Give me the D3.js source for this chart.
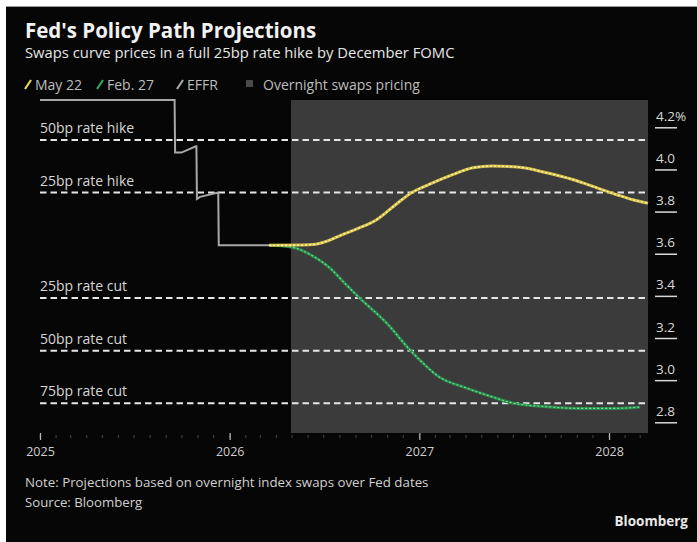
<!DOCTYPE html>
<html>
<head>
<meta charset="utf-8">
<script src="https://cdn.jsdelivr.net/npm/d3@7"></script>
<style>
  body { margin: 0; background: #fff; }
  svg { display: block; font-family: "Open Sans", sans-serif; }
</style>
</head>
<body>
<div id="chart"></div>
<script>

// effective fed funds rate (daily, only the turning points)
var effrDates  = ["2025-01-01","2025-09-17","2025-09-18","2025-09-30","2025-10-28","2025-10-29","2025-10-30","2025-11-05","2025-12-10","2025-12-11","2026-03-18"];
var effrValues = [4.33, 4.33, 4.08, 4.08, 4.11, 4.11, 3.86, 3.87, 3.89, 3.64, 3.64];

// swaps-implied path, May 22
var may22Dates  = ["2026-03-18","2026-05-20","2026-06-15","2026-07-10","2026-08-05","2026-09-05","2026-10-10","2026-11-15","2026-12-14","2027-01-21","2027-03-06","2027-04-14","2027-05-22","2027-07-13","2027-09-03","2027-10-23","2027-12-14","2028-01-16","2028-02-16","2028-03-16"];
var may22Values = [3.64, 3.641, 3.645, 3.662, 3.69, 3.72, 3.76, 3.83, 3.885, 3.93, 3.975, 4.008, 4.016, 4.01, 3.984, 3.952, 3.908, 3.88, 3.856, 3.84];

// swaps-implied path, Feb. 27
var feb27Dates  = ["2026-03-18","2026-04-27","2026-06-10","2026-07-13","2026-08-10","2026-09-08","2026-10-30","2026-12-14","2027-01-08","2027-02-03","2027-04-02","2027-05-22","2027-06-30","2027-09-03","2027-11-06","2028-01-08","2028-02-29"];
var feb27Values = [3.64, 3.633, 3.589, 3.532, 3.461, 3.39, 3.271, 3.143, 3.081, 3.024, 2.962, 2.92, 2.891, 2.874, 2.866, 2.866, 2.872];

var shadeStart = "2026-04-29";
var domainDates = ["2025-01-01", "2028-03-16"];

var refValues = [4.14, 3.89, 3.39, 3.14, 2.89];
var refLabels = ["50bp rate hike", "25bp rate hike", "25bp rate cut", "50bp rate cut", "75bp rate cut"];

var yTicks = [4.2, 4.0, 3.8, 3.6, 3.4, 3.2, 3.0, 2.8];
var legendLabels = ["May 22", "Feb. 27", "EFFR", "Overnight swaps pricing"];

var width = 697, height = 542;
var parse = d3.timeParse("%Y-%m-%d");

var svg = d3.select("#chart").append("svg")
  .attr("width", width)
  .attr("height", height);

// white frame + black card
svg.append("rect").attr("x", 6).attr("y", 6)
  .attr("width", width - 6).attr("height", height - 6)
  .attr("fill", "#060606");
svg.append("line").attr("x1", 6).attr("x2", width).attr("y1", 6.5).attr("y2", 6.5)
  .attr("stroke", "#9a9a9a").attr("stroke-width", 1);

var x = d3.scaleTime().domain(domainDates.map(parse)).range([40, 648]);
var y = d3.scaleLinear().domain([2.8, 4.2]).range([422.3, 127.3]);

// titles
svg.append("text").attr("x", 25).attr("y", 38)
  .attr("fill", "#f2f2f2").attr("font-size", 20.5).attr("font-weight", 700)
  .text("Fed's Policy Path Projections");
svg.append("text").attr("x", 25).attr("y", 58)
  .attr("fill", "#e6e6e6").attr("font-size", 14.8)
  .text("Swaps curve prices in a full 25bp rate hike by December FOMC");

// legend
var legendColors = ["#e9d84e", "#2fa95c", "#a8a8a8"];
var legendX = [25, 97, 177];
legendLabels.slice(0, 3).forEach(function(l, i) {
  svg.append("line")
    .attr("x1", legendX[i]).attr("y1", 89).attr("x2", legendX[i] + 6).attr("y2", 80)
    .attr("stroke", legendColors[i]).attr("stroke-width", 2.2);
  svg.append("text").attr("x", legendX[i] + 10).attr("y", 89.5)
    .attr("fill", "#bdbdbd").attr("font-size", 14).text(l);
});
svg.append("rect").attr("x", 246).attr("y", 80).attr("width", 7).attr("height", 7).attr("fill", "#4a4a4a");
svg.append("text").attr("x", 263).attr("y", 89.5)
  .attr("fill", "#bdbdbd").attr("font-size", 14).text(legendLabels[3]);

// shaded overnight swaps pricing region
svg.append("rect")
  .attr("x", x(parse(shadeStart)))
  .attr("y", 100)
  .attr("width", x.range()[1] - x(parse(shadeStart)))
  .attr("height", 333)
  .attr("fill", "#3b3b3b");

// x axis with monthly minor ticks
var minor = d3.timeMonth.range(x.domain()[0], x.domain()[1]);
svg.append("g").selectAll("line")
  .data(minor)
  .enter().append("line")
  .attr("x1", function(d) { return x(d); })
  .attr("x2", function(d) { return x(d); })
  .attr("y1", 435).attr("y2", 438)
  .attr("stroke", "#3c3c3c").attr("stroke-width", 1.2);

var xAxis = d3.axisBottom(x)
  .ticks(d3.timeYear.every(1))
  .tickFormat(d3.timeFormat("%Y"))
  .tickSize(7);
var xg = svg.append("g").attr("transform", "translate(0,433)").call(xAxis);
xg.select(".domain").remove();
xg.selectAll(".tick line").attr("stroke", "#bbbbbb").attr("stroke-width", 1.2);
xg.selectAll(".tick text").attr("y", 14).attr("fill", "#cfcfcf")
  .attr("font-size", 12.5).attr("font-family", "Open Sans, sans-serif");

// y axis on the right, labels sit above the tick line
var yAxis = d3.axisRight(y)
  .tickValues(yTicks)
  .tickSize(22)
  .tickFormat(function(d) { return d === 4.2 ? "4.2%" : d3.format(".1f")(d); });
var yg = svg.append("g").attr("transform", "translate(655,0)").call(yAxis);
yg.select(".domain").remove();
yg.selectAll(".tick line").attr("stroke", "#d8d8d8").attr("stroke-width", 1.5);
yg.selectAll(".tick text").attr("x", 1).attr("dy", -7).attr("fill", "#d8d8d8")
  .attr("font-size", 13.5).attr("font-family", "Open Sans, sans-serif")
  .style("text-anchor", "start");

// reference lines
refValues.forEach(function(v, i) {
  svg.append("line")
    .attr("x1", 40).attr("x2", 648)
    .attr("y1", y(v)).attr("y2", y(v))
    .attr("stroke", "#e6e6e6").attr("stroke-width", 2)
    .attr("stroke-dasharray", "6.5,4");
  svg.append("text").attr("x", 40).attr("y", y(v) - 7)
    .attr("fill", "#d6d6d6").attr("font-size", 14).text(refLabels[i]);
});

function series(dates, values) {
  return dates.map(function(d, i) { return { date: parse(d), value: values[i] }; });
}

var straight = d3.line()
  .x(function(d) { return x(d.date); })
  .y(function(d) { return y(d.value); });
var smooth = d3.line()
  .curve(d3.curveMonotoneX)
  .x(function(d) { return x(d.date); })
  .y(function(d) { return y(d.value); });

// EFFR
svg.append("path")
  .datum(series(effrDates, effrValues))
  .attr("d", straight)
  .attr("fill", "none").attr("stroke", "#a8a8a8").attr("stroke-width", 2);

// Feb. 27
var feb = series(feb27Dates, feb27Values);
svg.append("path").datum(feb).attr("d", smooth)
  .attr("fill", "none").attr("stroke", "#268c4a").attr("stroke-width", 3);
svg.append("path").datum(feb).attr("d", smooth)
  .attr("fill", "none").attr("stroke", "#86d89e").attr("stroke-width", 1.1)
  .attr("stroke-dasharray", "2,2");

// May 22
var may = series(may22Dates, may22Values);
svg.append("path").datum(may).attr("d", smooth)
  .attr("fill", "none").attr("stroke", "#d4bf42").attr("stroke-width", 3);
svg.append("path").datum(may).attr("d", smooth)
  .attr("fill", "none").attr("stroke", "#fff8c8").attr("stroke-width", 1.3)
  .attr("stroke-dasharray", "2,2");

// notes
svg.append("text").attr("x", 25).attr("y", 487)
  .attr("fill", "#d0d0d0").attr("font-size", 13.3)
  .text("Note: Projections based on overnight index swaps over Fed dates");
svg.append("text").attr("x", 25).attr("y", 507)
  .attr("fill", "#d0d0d0").attr("font-size", 13.2)
  .text("Source: Bloomberg");
svg.append("text").attr("x", 688).attr("y", 526)
  .attr("text-anchor", "end")
  .attr("fill", "#e8e8e8").attr("font-size", 13.5).attr("font-weight", 700)
  .text("Bloomberg");

</script>
</body>
</html>
